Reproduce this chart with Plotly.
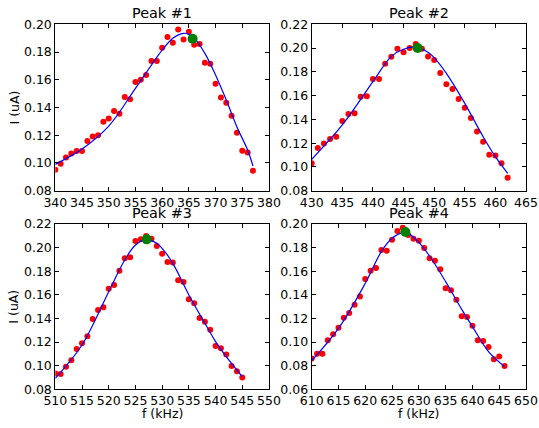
import plotly.graph_objects as go

# ---------------- data ----------------
f1 = list(range(340, 378))
i1 = [0.0951, 0.0995, 0.1040, 0.1069, 0.1086, 0.1086, 0.1158, 0.1190, 0.1200, 0.1298,
      0.1320, 0.1375, 0.1355, 0.1475, 0.1459, 0.1584, 0.1600, 0.1634, 0.1735, 0.1735,
      0.1831, 0.1908, 0.1867, 0.1963, 0.1891, 0.1947, 0.1853, 0.1858, 0.1723, 0.1716,
      0.1572, 0.1473, 0.1435, 0.1341, 0.1218, 0.1088, 0.1076, 0.0944]
fit1_f = [340, 345, 350, 355, 360, 362, 364, 365, 366, 368, 370, 372, 374, 376, 377]
fit1_i = [0.0990, 0.1100, 0.1266, 0.1538, 0.1814, 0.1900, 0.1935, 0.1928, 0.1900,
          0.1790, 0.1634, 0.1454, 0.1260, 0.1093, 0.0978]

f2 = list(range(430, 463))
i2 = [0.1030, 0.1159, 0.1198, 0.1235, 0.1254, 0.1386, 0.1445, 0.1451, 0.1591, 0.1594,
      0.1740, 0.1740, 0.1869, 0.1928, 0.1995, 0.1964, 0.2001, 0.2034, 0.1995, 0.1930,
      0.1900, 0.1790, 0.1695, 0.1656, 0.1571, 0.1498, 0.1412, 0.1299, 0.1212, 0.1103,
      0.1097, 0.1030, 0.0909]
fit2_f = [430, 435, 440, 443, 445, 447, 449, 450, 452, 455, 458, 460, 462]
fit2_i = [0.1064, 0.1353, 0.1717, 0.1930, 0.1990, 0.2009, 0.1964, 0.1920, 0.1787,
          0.1535, 0.1254, 0.1086, 0.0946]

f3 = list(range(510, 546))
i3 = [0.0933, 0.0930, 0.0992, 0.1046, 0.1142, 0.1190, 0.1249, 0.1396, 0.1472, 0.1494,
      0.1652, 0.1683, 0.1805, 0.1909, 0.1918, 0.2056, 0.2070, 0.2098, 0.2076, 0.2014,
      0.1949, 0.1878, 0.1873, 0.1723, 0.1709, 0.1562, 0.1528, 0.1404, 0.1373, 0.1305,
      0.1167, 0.1147, 0.1094, 0.0998, 0.0952, 0.0899]
fit3_f = [510, 515, 520, 523, 525, 527, 529, 530, 532, 535, 538, 540, 542, 545]
fit3_i = [0.0893, 0.1175, 0.1627, 0.1895, 0.2022, 0.2070, 0.2036, 0.1994, 0.1867,
          0.1599, 0.1359, 0.1204, 0.1077, 0.0907]

f4 = list(range(610, 647))
i4 = [0.0860, 0.0902, 0.0902, 0.1015, 0.1066, 0.1122, 0.1207, 0.1246, 0.1317, 0.1385,
      0.1534, 0.1605, 0.1627, 0.1780, 0.1774, 0.1867, 0.1941, 0.1969, 0.1907, 0.1876,
      0.1859, 0.1797, 0.1709, 0.1689, 0.1616, 0.1455, 0.1438, 0.1359, 0.1218, 0.1212,
      0.1139, 0.1015, 0.1009, 0.0958, 0.0854, 0.0877, 0.0798]
fit4_f = [610, 615, 620, 623, 625, 627, 628, 630, 632, 635, 638, 640, 643, 646]
fit4_i = [0.0843, 0.1116, 0.1498, 0.1766, 0.1879, 0.1927, 0.1921, 0.1845, 0.1729,
          0.1512, 0.1277, 0.1131, 0.0919, 0.0792]

peak_f = [365.7, 447.3, 527.1, 627.5]
peak_i = [0.1896, 0.2001, 0.2070, 0.1932]

titles = ["Peak #1", "Peak #2", "Peak #3", "Peak #4"]
x_ranges = [[340, 380], [430, 465], [510, 550], [610, 650]]
y_ranges = [[0.08, 0.20], [0.08, 0.22], [0.08, 0.22], [0.06, 0.20]]

# ---------------- figure ----------------
W, H = 539, 428
FONT = "DejaVu Sans"
xdoms = [[55.3 / W, 269 / W], [311.7 / W, 526 / W]] * 2
ydoms = [[1 - 190.7 / H, 1 - 24.3 / H]] * 2 + [[1 - 389.3 / H, 1 - 224 / H]] * 2

data = [(f1, i1, fit1_f, fit1_i), (f2, i2, fit2_f, fit2_i),
        (f3, i3, fit3_f, fit3_i), (f4, i4, fit4_f, fit4_i)]

fig = go.Figure()
annotations = []
for k, (fx, iy, ffx, ffy) in enumerate(data):
    ax = "" if k == 0 else str(k + 1)
    xa, ya = "x" + ax, "y" + ax
    fig.add_trace(go.Scatter(x=fx, y=iy, mode="markers", xaxis=xa, yaxis=ya,
                             marker=dict(color="#ff0000", size=6, line=dict(width=0)),
                             showlegend=False))
    fig.add_trace(go.Scatter(x=ffx, y=ffy, mode="lines", xaxis=xa, yaxis=ya,
                             line=dict(color="#0000ff", width=1.2, shape="spline", smoothing=1.0),
                             showlegend=False))
    fig.add_trace(go.Scatter(x=[peak_f[k]], y=[peak_i[k]], mode="markers", xaxis=xa, yaxis=ya,
                             marker=dict(color="#008000", size=10, line=dict(width=0)),
                             showlegend=False))
    common = dict(showgrid=False, zeroline=False, showline=True, linecolor="black",
                  linewidth=1, mirror="allticks", ticks="inside", ticklen=4,
                  automargin=False,
                  tickcolor="black", tickfont=dict(family=FONT, size=12.5, color="black"))
    fig.layout["xaxis" + ax] = dict(domain=xdoms[k], anchor=ya, range=x_ranges[k],
                                    dtick=5, tick0=0, **common)
    fig.layout["yaxis" + ax] = dict(domain=ydoms[k], anchor=xa, range=y_ranges[k],
                                    dtick=0.02, tick0=0, tickformat=".2f", **common)
    annotations.append(dict(text=titles[k], xref="paper", yref="paper",
                            x=sum(xdoms[k]) / 2, y=ydoms[k][1], xanchor="center",
                            yanchor="bottom", yshift=1, showarrow=False,
                            font=dict(family=FONT, size=14.4, color="black")))

for k in (0, 2):
    annotations.append(dict(text="I (uA)", xref="paper", yref="paper", x=14 / W,
                            y=sum(ydoms[k]) / 2, xanchor="center", yanchor="middle",
                            textangle=-90, showarrow=False,
                            font=dict(family=FONT, size=12.5, color="black")))
for k in (2, 3):
    annotations.append(dict(text="f (kHz)", xref="paper", yref="paper",
                            x=sum(xdoms[k]) / 2, y=1 - 413 / H, xanchor="center",
                            yanchor="middle", showarrow=False,
                            font=dict(family=FONT, size=12.5, color="black")))

fig.update_layout(template="none", width=W, height=H, margin=dict(l=0, r=0, t=0, b=0),
                  paper_bgcolor="white", plot_bgcolor="white",
                  annotations=annotations, font=dict(family=FONT, color="black"))

fig.write_html("out.html")
